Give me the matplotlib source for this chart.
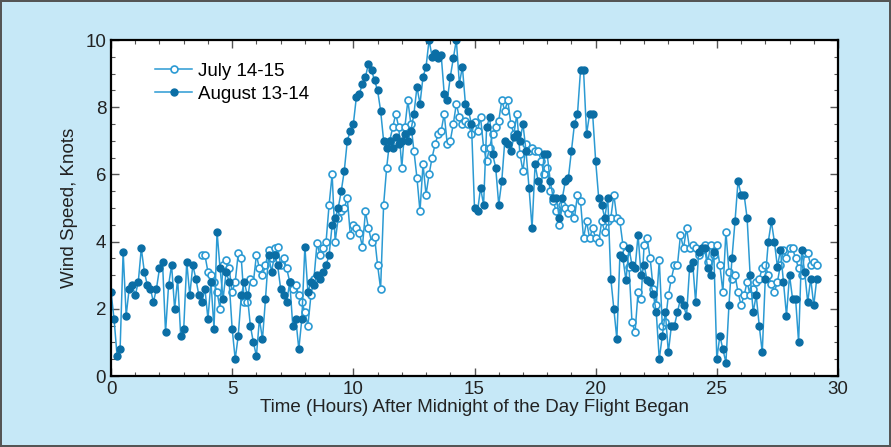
import numpy as np
import matplotlib.pyplot as plt
from matplotlib.ticker import MultipleLocator

# sample spacing of both records, hours
step = 0.125

# August 13-14: starts at midnight, one row per hour
aug_start = 0.0
aug_speed = [
    2.5, 1.7, 0.6, 0.8, 3.7, 1.8, 2.6, 2.7,
    2.4, 2.8, 3.8, 3.1, 2.7, 2.6, 2.2, 2.6,
    3.2, 3.4, 1.3, 2.7, 3.3, 2.0, 2.9, 1.2,
    1.4, 3.4, 2.4, 3.3, 2.9, 2.4, 2.2, 2.6,
    1.7, 2.8, 1.4, 4.3, 3.2, 2.3, 3.1, 2.8,
    1.4, 0.5, 1.2, 2.4, 2.8, 2.4, 1.5, 1.0,
    0.6, 1.7, 1.1, 2.3, 3.6, 3.1, 3.6, 3.3,
    2.6, 2.4, 2.2, 2.8, 1.5, 1.7, 0.8, 1.7,
    3.85, 2.5, 2.8, 2.7, 3.0, 2.9, 3.1, 3.3,
    3.6, 4.5, 4.7, 5.0, 5.5, 6.1, 7.0, 7.3,
    7.5, 8.3, 8.4, 8.7, 8.9, 9.3, 9.1, 8.8,
    8.5, 7.9, 7.0, 6.8, 7.0, 6.8, 7.1, 6.9,
    7.0, 7.2, 7.0, 7.3, 7.8, 8.6, 8.1, 8.9,
    9.2, 10.0, 9.5, 9.6, 9.45, 9.55, 8.4, 8.2,
    8.9, 9.45, 10.0, 8.7, 9.2, 8.1, 7.9, 7.5,
    5.0, 4.9, 5.6, 5.1, 7.4, 7.7, 6.6, 6.2,
    5.1, 5.8, 7.0, 6.9, 6.7, 7.1, 7.2, 7.0,
    7.5, 6.7, 5.6, 4.4, 6.3, 5.8, 5.6, 6.6,
    6.6, 5.8, 5.3, 5.3, 4.7, 5.3, 5.8, 5.9,
    6.7, 7.5, 7.8, 9.1, 9.1, 7.2, 7.8, 7.8,
    6.4, 5.3, 5.1, 4.7, 5.3, 2.9, 2.0, 1.1,
    3.6, 3.5, 2.85, 3.8, 3.3, 3.2, 4.2, 3.0,
    3.3, 2.85, 2.8, 2.45, 1.9, 0.5, 1.2, 1.9,
    0.7, 1.5, 1.5, 1.9, 2.3, 2.1, 1.8, 3.2,
    3.4, 2.2, 3.7, 3.8, 3.8, 3.2, 3.0, 3.7,
    0.5, 1.2, 0.8, 0.4, 2.1, 3.5, 4.6, 5.8,
    5.4, 5.4, 4.7, 3.0, 1.9, 2.4, 1.5, 0.7,
    2.9, 4.0, 4.6, 4.0, 3.25, 3.75, 2.8, 1.8,
    3.0, 2.3, 2.3, 1.0, 3.75, 3.1, 2.2, 2.9,
    2.1, 2.9,
]

# July 14-15: record begins a little before 4 am
jul_start = 3.75
jul_speed = [
    3.6, 3.6,
    3.1, 3.0, 2.8, 2.5, 2.0, 3.3, 3.45, 3.2,
    2.5, 2.8, 3.65, 3.5, 2.2, 2.2, 2.9, 2.8,
    3.6, 3.2, 3.0, 3.3, 3.75, 3.5, 3.8, 3.85,
    3.3, 3.5, 3.2, 2.8, 2.6, 2.7, 2.4, 2.2,
    1.9, 1.5, 2.4, 2.9, 3.95, 3.6, 3.8, 4.0,
    5.1, 6.0, 4.0, 4.7, 4.9, 5.0, 5.3, 4.2,
    4.5, 4.4, 4.25, 3.85, 4.9, 4.4, 4.0, 4.15,
    3.3, 2.6, 5.1, 6.2, 7.0, 7.4, 7.8, 7.4,
    6.2, 7.4, 8.2, 7.5, 6.7, 5.9, 4.9, 6.3,
    5.4, 6.0, 6.5, 6.9, 7.2, 7.3, 7.8, 6.9,
    7.0, 7.5, 8.1, 7.7, 7.5, 7.6, 7.5, 7.2,
    7.55, 7.3, 7.7, 6.8, 6.4, 6.8, 7.2, 7.4,
    7.6, 8.2, 7.9, 8.2, 7.5, 7.2, 7.8, 6.6,
    6.1, 6.9, 6.7, 6.8, 6.7, 6.7, 6.4, 6.0,
    6.2, 5.5, 5.2, 4.9, 4.5, 5.1, 5.0, 4.85,
    5.0, 4.7, 5.4, 5.2, 4.1, 4.6, 4.1, 4.4,
    4.1, 4.0, 4.6, 4.3, 4.6, 4.7, 5.4, 4.7,
    4.6, 3.9, 3.7, 3.25, 1.6, 1.3, 2.5, 2.3,
    3.9, 4.1, 3.5, 2.6, 2.1, 3.45, 1.5, 1.6,
    2.4, 2.9, 3.3, 3.3, 4.2, 3.8, 4.4, 3.8,
    3.9, 3.8, 3.6, 3.75, 3.9, 3.4, 3.9, 3.6,
    3.9, 3.3, 2.5, 4.3, 3.1, 2.9, 3.0, 2.5,
    2.1, 2.4, 2.8, 2.4, 2.6, 2.8, 2.9, 3.2,
    3.3, 3.0, 2.75, 2.5, 2.8, 3.3, 3.75, 3.5,
    3.8, 3.8, 3.5, 3.2, 3.0, 3.65, 3.65, 3.3,
    3.4, 3.3,
]

aug_t = aug_start + step * np.arange(len(aug_speed))
jul_t = jul_start + step * np.arange(len(jul_speed))

plt.rcParams['font.family'] = ['Liberation Sans', 'DejaVu Sans']

line_c = '#2b9ad3'
dark_c = '#0b6ea5'
fs = 13.5

fig = plt.figure(figsize=(8.91, 4.47), dpi=100, facecolor='#c6e8f7',
                 edgecolor='#555555', linewidth=1.5)
ax = fig.add_axes([0.1246, 0.1588, 0.8159, 0.7517])

ax.plot(jul_t, jul_speed, '-o', color=line_c, lw=1.1, ms=5,
        mfc='white', mec=line_c, mew=1.2, label='July 14-15')
ax.plot(aug_t, aug_speed, '-o', color=line_c, lw=1.1, ms=5,
        mfc=dark_c, mec=dark_c, label='August 13-14')

ax.set_xlim(0, 30)
ax.set_ylim(0, 10)
ax.xaxis.set_major_locator(MultipleLocator(5))
ax.xaxis.set_minor_locator(MultipleLocator(1))
ax.yaxis.set_major_locator(MultipleLocator(2))
ax.yaxis.set_minor_locator(MultipleLocator(0.5))
ax.tick_params(which='both', direction='in', top=True, right=True,
               color='#555555', labelsize=fs, labelcolor='#222222')
ax.tick_params(which='major', length=6, width=1)
ax.tick_params(which='minor', length=3, width=0.8)
for s in ax.spines.values():
    s.set_linewidth(1.6)
    s.set_color('black')

ax.set_xlabel('Time (Hours) After Midnight of the Day Flight Began',
              fontsize=fs, color='#222222', labelpad=1)
ax.set_ylabel('Wind Speed, Knots', fontsize=fs, color='#222222',
              labelpad=5)

ax.legend(loc='upper left', bbox_to_anchor=(0.05, 0.955), frameon=False,
          numpoints=1, handlelength=2.0, fontsize=fs, labelspacing=0.3,
          handletextpad=0.3, borderaxespad=0)

fig.savefig('out.png', dpi=100, facecolor=fig.get_facecolor(),
            edgecolor=fig.get_edgecolor())
